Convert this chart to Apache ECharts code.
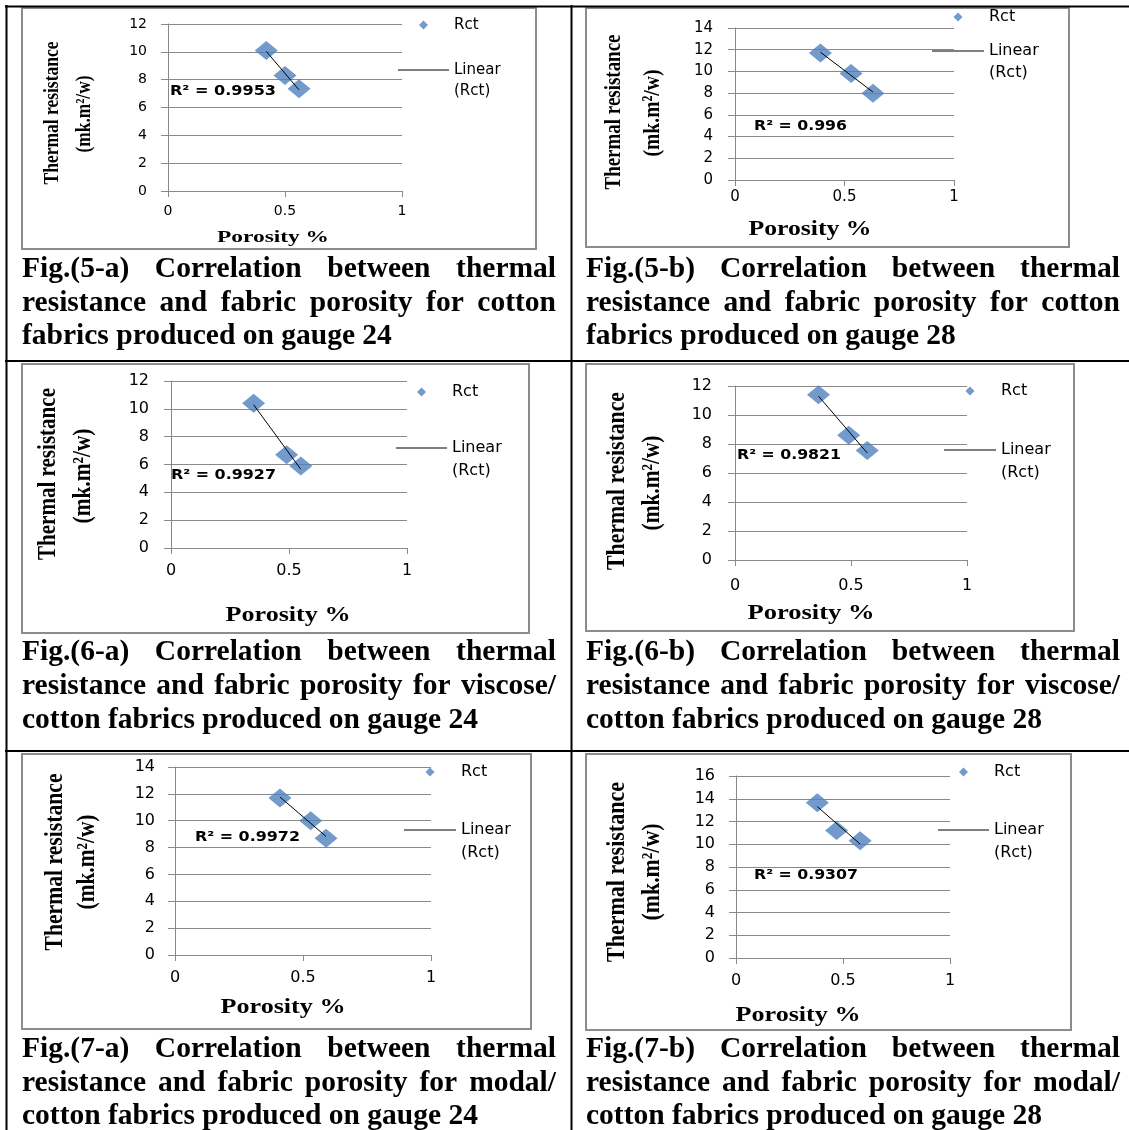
<!DOCTYPE html>
<html>
<head>
<meta charset="utf-8">
<script src="https://cdn.jsdelivr.net/npm/echarts@6/dist/echarts.min.js"></script>
<style>
  html, body { margin: 0; padding: 0; background: #fff; }
  #chart { width: 1129px; height: 1130px; }
</style>
</head>
<body>
<div id="chart"></div>
<script>
// ---- Measured values: porosity (fraction) vs. thermal resistance Rct ----
const porosityCotton24 = [0.42, 0.50, 0.56];
const rctCotton24      = [10.1, 8.3, 7.35];
const porosityCotton28 = [0.39, 0.53, 0.63];
const rctCotton28      = [11.7, 9.8, 8.0];
const porosityViscose24 = [0.35, 0.49, 0.55];
const rctViscose24      = [10.4, 6.7, 5.9];
const porosityViscose28 = [0.36, 0.49, 0.57];
const rctViscose28      = [11.4, 8.6, 7.55];
const porosityModal24 = [0.41, 0.53, 0.59];
const rctModal24      = [11.7, 10.0, 8.7];
const porosityModal28 = [0.38, 0.47, 0.58];
const rctModal28      = [13.65, 11.2, 10.3];

// Coefficients of determination printed on each chart
const r2Labels = ['0.9953', '0.996', '0.9927', '0.9821', '0.9972', '0.9307'];

// Axis ranges
const yMaxValues = [12, 14, 12, 12, 14, 16];
const yInterval = 2;
const xTickValues = [0, 0.5, 1];

// Axis / legend texts
const xAxisTitle = 'Porosity %';
const yAxisTitleLines = ['Thermal resistance', '(mk.m\u00B2/w)'];
const pointsName = 'Rct';
const trendName = 'Linear (Rct)';
const trendLegendLines = ['Linear', '(Rct)'];

// Figure captions
const captions = [
  ['Fig.(5-a) Correlation between thermal', 'resistance and fabric porosity for cotton', 'fabrics produced on gauge 24'],
  ['Fig.(5-b) Correlation between thermal', 'resistance and fabric porosity for cotton', 'fabrics produced on gauge 28'],
  ['Fig.(6-a) Correlation between thermal', 'resistance and fabric porosity for viscose/', 'cotton fabrics produced on gauge 24'],
  ['Fig.(6-b) Correlation between thermal', 'resistance and fabric porosity for viscose/', 'cotton fabrics produced on gauge 28'],
  ['Fig.(7-a) Correlation between thermal', 'resistance and fabric porosity for modal/', 'cotton fabrics produced on gauge 24'],
  ['Fig.(7-b) Correlation between thermal', 'resistance and fabric porosity for modal/', 'cotton fabrics produced on gauge 28']
];

const seriesX = [porosityCotton24, porosityCotton28, porosityViscose24, porosityViscose28, porosityModal24, porosityModal28];
const seriesY = [rctCotton24, rctCotton28, rctViscose24, rctViscose28, rctModal24, rctModal28];

// ---- Page layout (pixels) for the six panels ----
const layout = [
  { frame: [22, 8, 536, 249], plot: [168, 24, 402, 191], tickFont: 14, xMargin: 13, yMargin: 21,
    legend: { left: 398, w: 51, rctY: 25, linY: 70, lh: 21, font: 15 },
    r2: { x: 170, y: 91, w: 106 }, xTitle: { x: 273, y: 238, w: 112, f: 17 },
    yTitle: [{ x: 52, y: 113, len: 143 }, { x: 84, y: 114, len: 77 }], yTitleFont: 22,
    caption: { left: 22, right: 556, ys: [269, 303, 336] } },
  { frame: [586, 8, 1069, 247], plot: [735, 28, 954, 180], tickFont: 15, xMargin: 10, yMargin: 22,
    legend: { left: 932, w: 52, rctY: 17, linY: 51, lh: 22, font: 16 },
    r2: { x: 754, y: 126, w: 93 }, xTitle: { x: 810, y: 230, w: 123, f: 20 },
    yTitle: [{ x: 614, y: 112, len: 155 }, { x: 653, y: 113, len: 87 }], yTitleFont: 24,
    caption: { left: 586, right: 1120, ys: [269, 303, 336] } },
  { frame: [22, 364, 529, 633], plot: [171, 381, 407, 548], tickFont: 16, xMargin: 15, yMargin: 22,
    legend: { left: 396, w: 51, rctY: 392, linY: 448, lh: 23, font: 16 },
    r2: { x: 171, y: 475, w: 105 }, xTitle: { x: 288, y: 615, w: 125, f: 22 },
    yTitle: [{ x: 49, y: 474, len: 172 }, { x: 84, y: 476, len: 95 }], yTitleFont: 25,
    caption: { left: 22, right: 556, ys: [652, 686, 720] } },
  { frame: [586, 364, 1074, 631], plot: [735, 386, 967, 560], tickFont: 16, xMargin: 18, yMargin: 23,
    legend: { left: 944, w: 52, rctY: 391, linY: 450, lh: 23, font: 16 },
    r2: { x: 737, y: 455, w: 104 }, xTitle: { x: 811, y: 613, w: 127, f: 22 },
    yTitle: [{ x: 618, y: 481, len: 178 }, { x: 653, y: 483, len: 95 }], yTitleFont: 25,
    caption: { left: 586, right: 1120, ys: [652, 686, 720] } },
  { frame: [22, 754, 531, 1029], plot: [175, 767, 431, 955], tickFont: 16, xMargin: 15, yMargin: 20,
    legend: { left: 404, w: 52, rctY: 772, linY: 830, lh: 23, font: 16 },
    r2: { x: 195, y: 837, w: 105 }, xTitle: { x: 283, y: 1007, w: 125, f: 22 },
    yTitle: [{ x: 56, y: 862, len: 177 }, { x: 88, y: 862, len: 95 }], yTitleFont: 25,
    caption: { left: 22, right: 556, ys: [1049, 1083, 1116] } },
  { frame: [586, 754, 1071, 1030], plot: [736, 776, 950, 958], tickFont: 16, xMargin: 15, yMargin: 21,
    legend: { left: 938, w: 51, rctY: 772, linY: 830, lh: 23, font: 16 },
    r2: { x: 754, y: 875, w: 104 }, xTitle: { x: 798, y: 1015, w: 125, f: 22 },
    yTitle: [{ x: 618, y: 872, len: 180 }, { x: 653, y: 872, len: 97 }], yTitleFont: 25,
    caption: { left: 586, right: 1120, ys: [1049, 1083, 1116] } }
];

const SANS = '"DejaVu Sans", Verdana, sans-serif';
const SERIF = '"Liberation Serif", "Times New Roman", serif';
const GRID_GRAY = '#898989';
const MARKER_BLUE = '#4F81BD';
const CAPTION_SIZE = 29.5;
const LEGEND_MARK = 9;

// Text measuring for justified captions and fitted titles
const measureCtx = document.createElement('canvas').getContext('2d');
function textWidth(str, weight, size, family) {
  measureCtx.font = weight + ' ' + size + 'px ' + family;
  return measureCtx.measureText(str).width;
}
function fittedText(str, x, y, size, family, weight, len, rotation, align) {
  const w = textWidth(str, weight, size, family);
  return {
    type: 'text', x: x, y: y, rotation: rotation || 0,
    scaleX: len ? len / w : 1, silent: true,
    style: { text: str, fontSize: size, fontFamily: family, fontWeight: weight,
             fill: '#000', align: align || 'center', verticalAlign: 'middle' }
  };
}

// Least-squares straight line through one group of points
function linearFit(xs, ys) {
  const n = xs.length;
  const mx = xs.reduce((a, b) => a + b, 0) / n;
  const my = ys.reduce((a, b) => a + b, 0) / n;
  let sxy = 0, sxx = 0;
  for (let i = 0; i < n; i++) { sxy += (xs[i] - mx) * (ys[i] - my); sxx += (xs[i] - mx) ** 2; }
  const slope = sxy / sxx;
  return { slope: slope, intercept: my - slope * mx };
}

const grids = [], xAxes = [], yAxes = [], series = [], legends = [], graphics = [];

layout.forEach((L, i) => {
  const [x0, yTop, x1, y0] = L.plot;
  grids.push({ left: x0, top: yTop, width: x1 - x0, height: y0 - yTop, containLabel: false });

  const axisLineStyle = { color: GRID_GRAY, width: 1 };
  xAxes.push({
    gridIndex: i, type: 'value', min: xTickValues[0], max: xTickValues[xTickValues.length - 1],
    interval: xTickValues[1] - xTickValues[0],
    axisLine: { show: true, onZero: false, lineStyle: axisLineStyle },
    axisTick: { show: true, inside: false, length: 6, lineStyle: axisLineStyle },
    axisLabel: { margin: L.xMargin, fontFamily: SANS, fontSize: L.tickFont, color: '#000' },
    splitLine: { show: false }
  });
  yAxes.push({
    gridIndex: i, type: 'value', min: 0, max: yMaxValues[i], interval: yInterval,
    axisLine: { show: true, onZero: false, lineStyle: axisLineStyle },
    axisTick: { show: true, inside: false, length: 7, lineStyle: axisLineStyle },
    axisLabel: { margin: L.yMargin, fontFamily: SANS, fontSize: L.tickFont, color: '#000' },
    splitLine: { show: true, lineStyle: { color: GRID_GRAY, width: 1 } }
  });

  const xs = seriesX[i], ys = seriesY[i];
  series.push({
    type: 'scatter', name: pointsName, xAxisIndex: i, yAxisIndex: i,
    data: xs.map((x, k) => [x, ys[k]]),
    symbol: 'diamond', symbolSize: [23, 19],
    itemStyle: { color: MARKER_BLUE }, z: 3
  });
  const fit = linearFit(xs, ys);
  const xMin = Math.min(...xs), xMax = Math.max(...xs);
  series.push({
    type: 'line', name: trendName, xAxisIndex: i, yAxisIndex: i,
    data: [[xMin, fit.intercept + fit.slope * xMin], [xMax, fit.intercept + fit.slope * xMax]],
    symbol: 'none', lineStyle: { color: '#000', width: 1 }, itemStyle: { color: '#000' }, z: 4
  });

  // Legend: marker entry (small diamond centred over the trendline sample) and trendline entry
  const lg = L.legend;
  const markInset = (lg.w - LEGEND_MARK) / 2;
  legends.push({
    left: lg.left + markInset, top: lg.rctY - 10, padding: 0, orient: 'vertical', selectedMode: false,
    itemWidth: lg.w, itemHeight: LEGEND_MARK, symbolKeepAspect: true,
    data: [{ name: pointsName, icon: 'path://M5,0L10,5L5,10L0,5Z', itemStyle: { color: MARKER_BLUE } }],
    textStyle: { fontFamily: SANS, fontSize: lg.font, color: '#000', lineHeight: 20 }
  });
  // Three text rows (blank, "Linear", "(Rct)") keep the sample line level with "Linear"
  legends.push({
    left: lg.left, top: lg.linY - 1.5 * lg.lh, padding: 0, orient: 'vertical', selectedMode: false,
    itemWidth: lg.w, itemHeight: 1,
    data: [{ name: trendName, icon: 'rect', itemStyle: { color: '#000' } }],
    formatter: () => ' \n' + trendLegendLines.join('\n'),
    textStyle: { fontFamily: SANS, fontSize: lg.font, color: '#000', lineHeight: lg.lh }
  });

  // Chart frame
  const [fl, ft, fr, fb] = L.frame;
  graphics.push({ type: 'rect', shape: { x: fl, y: ft, width: fr - fl, height: fb - ft },
    style: { fill: 'none', stroke: '#8c8c8c', lineWidth: 2 }, silent: true, z: -1 });

  // R² annotation
  graphics.push(fittedText('R\u00B2 = ' + r2Labels[i], L.r2.x, L.r2.y, 14, SANS, 'bold', L.r2.w, 0, 'left'));

  // Axis titles
  graphics.push(fittedText(xAxisTitle, L.xTitle.x, L.xTitle.y, L.xTitle.f, SERIF, 'bold', L.xTitle.w, 0, 'center'));
  L.yTitle.forEach((t, k) => {
    graphics.push(fittedText(yAxisTitleLines[k], t.x, t.y, L.yTitleFont, SERIF, 'bold', t.len, Math.PI / 2, 'center'));
  });

  // Caption: first two lines justified, last line left aligned
  const C = L.caption;
  captions[i].forEach((line, li) => {
    const words = line.split(' ');
    const widths = words.map(w => textWidth(w, 'bold', CAPTION_SIZE, SERIF));
    const total = widths.reduce((a, b) => a + b, 0);
    const justify = li < captions[i].length - 1;
    const gap = justify ? (C.right - C.left - total) / (words.length - 1)
                        : textWidth(' ', 'bold', CAPTION_SIZE, SERIF);
    let cx = C.left;
    words.forEach((w, k) => {
      graphics.push({ type: 'text', x: cx, y: C.ys[li], silent: true,
        style: { text: w, fontSize: CAPTION_SIZE, fontFamily: SERIF, fontWeight: 'bold',
                 fill: '#000', align: 'left', verticalAlign: 'middle' } });
      cx += widths[k] + gap;
    });
  });
});

// Table rules around the figure cells
const rule = (x1, y1, x2, y2) => ({ type: 'line', shape: { x1, y1, x2, y2 },
  style: { stroke: '#000', lineWidth: 2 }, silent: true, z: 10 });
graphics.push(rule(5, 6.5, 1129, 6.5));
graphics.push(rule(6.5, 5, 6.5, 1130));
graphics.push(rule(571.5, 5, 571.5, 1130));
graphics.push(rule(5, 361, 1129, 361));
graphics.push(rule(5, 751, 1129, 751));

const chart = echarts.init(document.getElementById('chart'), null, { renderer: 'canvas' });
chart.setOption({
  animation: false,
  backgroundColor: '#fff',
  grid: grids,
  xAxis: xAxes,
  yAxis: yAxes,
  legend: legends,
  series: series,
  graphic: { elements: graphics }
});
</script>
</body>
</html>
